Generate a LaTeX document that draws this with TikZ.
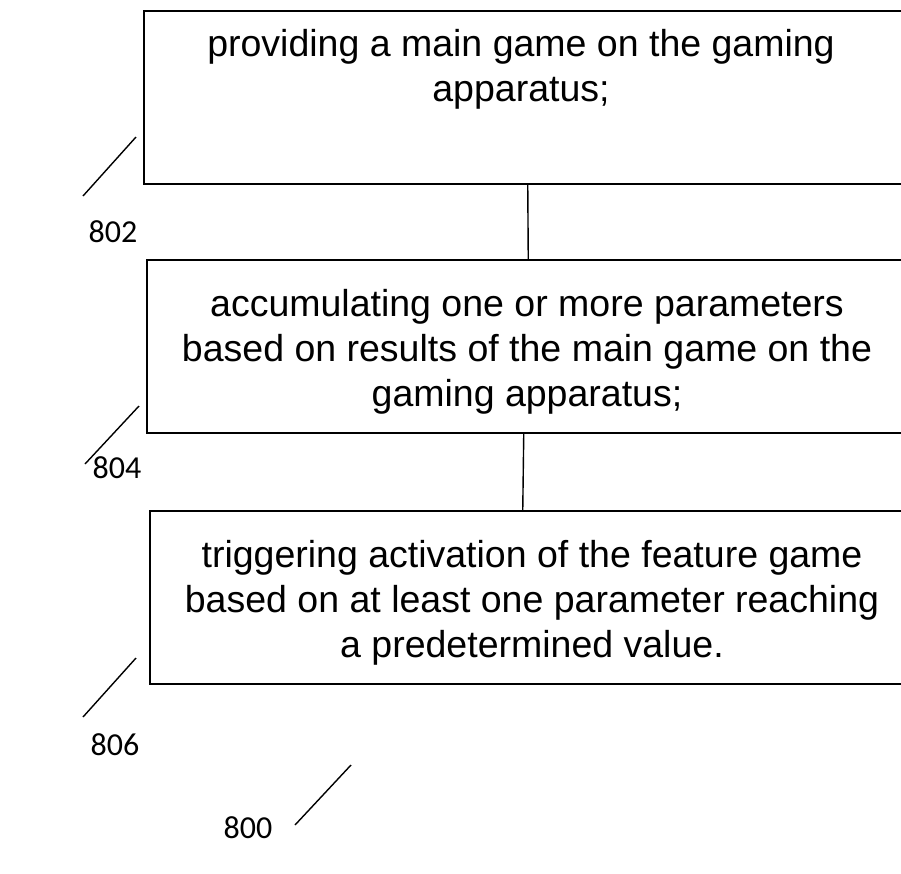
\documentclass[tikz,border=0pt]{standalone}
\usepackage{fontspec}
\setmainfont{Liberation Sans}
\newfontfamily\labelfont{Carlito}
\begin{document}
\begin{tikzpicture}[x=1pt,y=-1pt]
        \tikzstyle{stepbox}=[rectangle,draw=black,line width=1.5pt,anchor=north west,minimum height=173pt]
        \tikzstyle{steptext}=[align=center,anchor=base,inner sep=0pt,font=\fontsize{37.5}{45}\selectfont]
        \tikzstyle{refnum}=[inner sep=0pt,font=\labelfont\fontsize{32}{32}\selectfont]
        \tikzstyle{edge}=[draw,line width=1.4pt]
        \useasboundingbox (0,0) rectangle (901,873);
        \clip (0,0) rectangle (901,873);
        \begin{scope}
           \node [stepbox,minimum width=762pt] (b1) at (143,10) {};
           \node [stepbox,minimum width=760pt] (b2) at (146,259) {};
           \node [stepbox,minimum width=756pt] (b3) at (149,510) {};
           \node [steptext] (t1) at (521,101) {providing a main game on the gaming\\apparatus;};
           \node [steptext] (t2) at (527,406) {accumulating one or more parameters\\based on results of the main game on the\\gaming apparatus;};
           \node [steptext] (t3) at (532,657) {triggering activation of the feature game\\based on at least one parameter reaching\\a predetermined value.};
           \path[edge] ([xshift=3pt]b1.south) -- ([xshift=1.5pt]b2.north);
           \path[edge] ([xshift=-3pt]b2.south) -- ([xshift=-5pt]b3.north);
        \end{scope}
        \begin{scope}
           \node [refnum] (r802) at (113,232) {802};
           \node [refnum] (r804) at (117,468) {804};
           \node [refnum] (r806) at (115,745) {806};
           \node [refnum] (r800) at (248,828) {800};
           \coordinate (a802) at (83,196);
           \coordinate (e802) at (136,137);
           \coordinate (a804) at (85,464);
           \coordinate (e804) at (139,406);
           \coordinate (a806) at (83,717);
           \coordinate (e806) at (136,658);
           \coordinate (a800) at (295,825);
           \coordinate (e800) at (351,765);
           \path[edge] (a802) -- (e802);
           \path[edge] (a804) -- (e804);
           \path[edge] (a806) -- (e806);
           \path[edge] (a800) -- (e800);
        \end{scope}
      \end{tikzpicture}
\end{document}
